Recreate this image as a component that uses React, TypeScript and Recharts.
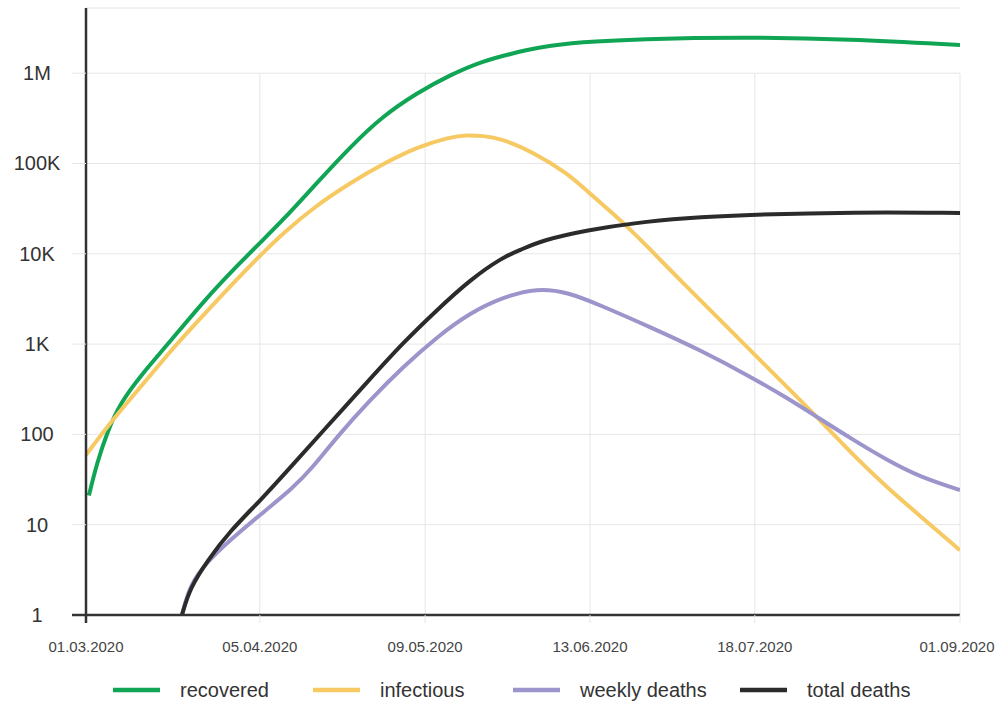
import React from 'react';
import { LineChart, Line, XAxis, YAxis, CartesianGrid, ReferenceLine, Legend } from 'recharts';

// x runs in days from 01.03.2020; tick positions
const tickDays = [0, 36.6, 71.4, 106.1, 140.8, 184];
const tickLabels = ['01.03.2020', '05.04.2020', '09.05.2020', '13.06.2020', '18.07.2020', '01.09.2020'];

const yTicks = [1, 10, 100, 1000, 10000, 100000, 1000000];
const yLabels = ['1', '10', '100', '1K', '10K', '100K', '1M'];

const recoveredDays = [0.6, 2.3, 4.4, 7.2, 11.8, 17.1, 25.5, 32.4, 36.8, 41.5, 48.6, 55.6, 62.5, 69.7, 76.6, 83.6, 89.3, 95.6, 104, 116.6, 137.7, 160.8, 184];
const recoveredValues = [21, 48, 104, 223, 467, 977, 3320, 7900, 13500, 23700, 60800, 152000, 336000, 604000, 955000, 1365000, 1632000, 1950000, 2217000, 2392000, 2517000, 2392000, 2052000];

const infectiousDays = [0, 5.7, 12.4, 18.3, 25.5, 32.4, 36.8, 41.5, 48.6, 55.6, 62.5, 69.7, 76.6, 80.2, 83.6, 87.2, 94.1, 101.3, 105.7, 110.3, 114.5, 118.7, 123.6, 129.3, 133.5, 140.4, 147.6, 153.9, 161.5, 168.6, 175.6, 184];
const infectiousValues = [59, 148, 380, 906, 2330, 5680, 9700, 17000, 34700, 60800, 98700, 152000, 196000, 207000, 202000, 191000, 134000, 78500, 48400, 29800, 18800, 11300, 6130, 3080, 1850, 797, 335, 156, 59, 26, 12.5, 5.2];

const weeklyDays = [20.2, 21.9, 25.5, 30.3, 36.6, 43.6, 47.8, 52.8, 59.8, 66.7, 73.9, 80.8, 87.8, 95, 101.3, 108.2, 118.7, 129.3, 140.4, 147.6, 153.9, 161.5, 168.6, 175.6, 184];
const weeklyValues = [1, 2.2, 3.86, 6.77, 12.8, 25.5, 43.5, 93.6, 240, 557, 1200, 2210, 3320, 4180, 3780, 2710, 1550, 861, 421, 253, 156, 87, 52, 33.7, 24.2];

const totalDays = [20.2, 21.9, 25.5, 30.3, 36.6, 42.9, 49.9, 59.8, 66.7, 73.9, 80.8, 87.8, 91.4, 96.2, 105.7, 115.2, 126.5, 137.7, 162.3, 184];
const totalValues = [1, 1.99, 3.96, 8.5, 18.3, 42.5, 109, 411, 1030, 2390, 5130, 9220, 11000, 14200, 18350, 21900, 24900, 26900, 29000, 28300];

const toRows = (days: number[], values: number[]) => days.map((d, i) => ({ day: d, value: values[i] }));

const series = [
  { name: 'recovered', color: '#10a554', data: toRows(recoveredDays, recoveredValues) },
  { name: 'infectious', color: '#f6c963', data: toRows(infectiousDays, infectiousValues) },
  { name: 'weekly deaths', color: '#9c95cb', data: toRows(weeklyDays, weeklyValues) },
  { name: 'total deaths', color: '#2b2b2b', data: toRows(totalDays, totalValues) },
];

const legendStarts = [113, 313, 513, 740];
const FONT = '"Liberation Sans", Arial, sans-serif';
const AXIS = '#333333';
const GRID = '#e6e6e6';

const XTick = (props: any) => {
  const { x, y, payload } = props;
  const idx = tickDays.indexOf(payload.value);
  const last = idx === tickDays.length - 1;
  return (
    <g>
      <line x1={x} x2={x} y1={y - 8} y2={y} stroke={idx === 0 ? AXIS : GRID} strokeWidth={idx === 0 ? 2.5 : 1} />
      <text x={last ? x - 3 : x} y={y + 29} textAnchor="middle" fontSize={15} fill="#444" fontFamily={FONT}>
        {tickLabels[idx]}
      </text>
    </g>
  );
};

const YTick = (props: any) => {
  const { x, y, payload } = props;
  const idx = yTicks.indexOf(payload.value);
  return (
    <g>
      <line x1={x} x2={x + 14} y1={y} y2={y} stroke={idx === 0 ? AXIS : GRID} strokeWidth={idx === 0 ? 2.5 : 1} />
      <text x={37} y={y + 7} textAnchor="middle" fontSize={20} fill="#333" fontFamily={FONT}>
        {yLabels[idx]}
      </text>
    </g>
  );
};

const LegendContent = () => (
  <div style={{ position: 'relative', width: 996, height: 30, fontFamily: FONT }}>
    {series.map((s, i) => (
      <div key={s.name} style={{ position: 'absolute', left: legendStarts[i], top: 2, height: 30, display: 'flex', alignItems: 'center' }}>
        <svg width={47} height={6} style={{ display: 'block' }}>
          <line x1={0} x2={47} y1={3} y2={3} stroke={s.color} strokeWidth={4.5} />
        </svg>
        <span style={{ marginLeft: 20, fontSize: 20, color: '#333', whiteSpace: 'nowrap' }}>{s.name}</span>
      </div>
    ))}
  </div>
);

export default function App() {
  return (
    <div style={{ position: 'absolute', left: 0, top: 0, background: '#fff' }}>
      <LineChart width={996} height={703} margin={{ top: 8, right: 36, left: 0, bottom: 0 }}>
        <CartesianGrid vertical={false} stroke={GRID} />
        <XAxis
          type="number"
          dataKey="day"
          domain={[0, 184]}
          ticks={tickDays}
          interval={0}
          height={58}
          tickSize={8}
          tickMargin={0}
          tickLine={false}
          tick={<XTick />}
          axisLine={{ stroke: AXIS, strokeWidth: 2.5 }}
          allowDataOverflow
        />
        <YAxis
          scale="log"
          domain={[1, 5270000]}
          ticks={yTicks}
          interval={0}
          width={86}
          tickSize={14}
          tickMargin={0}
          tickLine={false}
          tick={<YTick />}
          axisLine={{ stroke: AXIS, strokeWidth: 2.5 }}
          allowDataOverflow
        />
        {tickDays.slice(1).map((d) => (
          <ReferenceLine key={d} segment={[{ x: d, y: 1 }, { x: d, y: 1000000 }]} stroke={GRID} />
        ))}
        <Legend verticalAlign="bottom" height={30} content={<LegendContent />} />
        {series.map((s) => (
          <Line
            key={s.name}
            data={s.data}
            dataKey="value"
            name={s.name}
            type="basis"
            stroke={s.color}
            strokeWidth={4}
            dot={false}
            activeDot={false}
            isAnimationActive={false}
          />
        ))}
      </LineChart>
    </div>
  );
}
